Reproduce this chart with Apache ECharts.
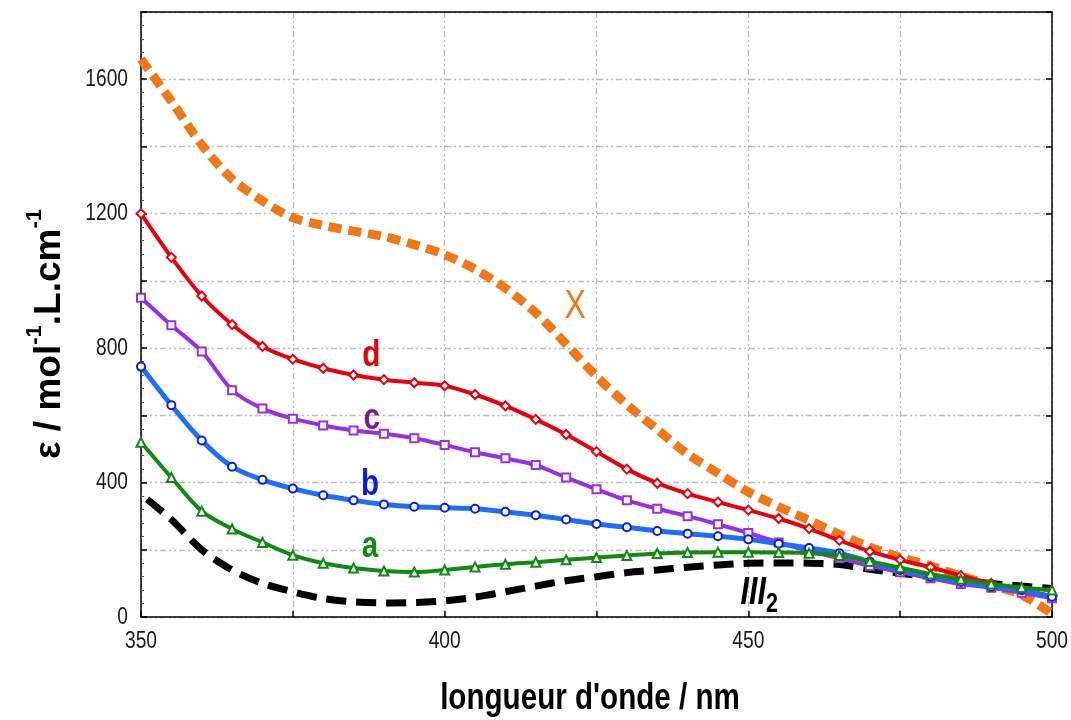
<!DOCTYPE html>
<html>
<head>
<meta charset="utf-8">
<script src="https://cdn.jsdelivr.net/npm/echarts@6/dist/echarts.min.js"></script>
<style>
  html, body { margin: 0; padding: 0; background: #ffffff; }
  #chart { width: 1071px; height: 720px; }
</style>
</head>
<body>
<div id="chart"></div>
<script>
// ---- data ----
const wavelengths = [350,355,360,365,370,375,380,385,390,395,400,405,410,415,420,425,430,435,440,445,450,455,460,465,470,475,480,485,490,495,500];
const seriesX = [1660,1535,1405,1303,1238,1188,1165,1148,1132,1108,1078,1035,978,905,812,716,632,558,485,428,372,328,288,246,208,178,152,122,95,66,10];
const seriesD = [1200,1070,955,870,805,767,740,720,706,697,688,662,628,588,543,492,440,398,367,342,318,293,263,228,195,170,148,123,100,82,62];
const seriesC = [950,868,790,675,620,590,570,555,545,532,512,490,472,452,415,380,347,322,300,276,250,222,196,175,152,133,115,98,87,72,56];
const seriesB = [745,630,525,447,408,382,362,347,335,328,325,322,313,303,290,277,267,256,248,240,231,218,205,190,165,140,120,104,90,80,60];
const seriesA = [520,415,315,262,222,184,160,146,137,134,140,149,157,163,170,177,183,189,192,193,193,192,190,183,165,147,128,112,98,88,80];
const wavelengthsIII2 = [351,355,360,365,370,375,380,385,390,395,400,405,410,415,420,425,430,435,440,445,450,455,460,465,470,475,480,485,490,495,500];
const seriesIII2 = [350,290,200,140,100,75,55,45,42,43,48,59,75,92,108,120,132,140,148,155,160,161,160,156,142,130,120,110,100,92,85];

const xTickLabels = [350, 400, 450, 500];
const yTickLabels = [0, 400, 800, 1200, 1600];

const seriesNames = ['X', 'd', 'c', 'b', 'a', 'III2'];
// label anchor points in data units [wavelength, epsilon]
const labelAnchors = {
  X: [421.5, 922], d: [387.9, 776], c: [388.0, 589], b: [387.7, 393], a: [387.7, 208], III2: [451.8, 62]
};

function pairs(xs, ys) { return xs.map((x, i) => [x, ys[i]]); }

const FONT = '"Liberation Sans", Arial, sans-serif';
const NARROW = 0.80;

const chart = echarts.init(document.getElementById('chart'), null, { renderer: 'canvas' });

const gridLine = { show: true, lineStyle: { color: '#BDBDBD', width: 1.3, type: [6, 3, 2, 3, 2, 3] } };

const option = {
  backgroundColor: '#ffffff',
  animation: false,
  grid: { left: 141, right: 19, top: 12, bottom: 103, show: false },
  xAxis: [
    {
      type: 'value', min: 350, max: 500, interval: 25, position: 'bottom',
      axisLine: { show: true, onZero: false, lineStyle: { color: '#000', width: 1.5 } },
      axisTick: { show: true, inside: true, length: 6, lineStyle: { color: '#000', width: 1.5 } },
      axisLabel: { show: false },
      splitLine: gridLine
    },
    {
      type: 'value', min: 350, max: 500, interval: 25, position: 'top',
      axisLine: { show: true, onZero: false, lineStyle: { color: '#000', width: 1.5 } },
      axisTick: { show: false }, axisLabel: { show: false }, splitLine: { show: false }
    }
  ],
  yAxis: [
    {
      type: 'value', min: 0, max: 1800, interval: 200, position: 'left',
      axisLine: { show: true, onZero: false, lineStyle: { color: '#000', width: 1.5 } },
      axisTick: { show: true, inside: true, length: 6, lineStyle: { color: '#000', width: 1.5 } },
      minorTick: { show: true, splitNumber: 5, length: 3, lineStyle: { color: '#555', width: 1 } },
      axisLabel: { show: false },
      splitLine: gridLine
    },
    {
      type: 'value', min: 0, max: 1800, interval: 200, position: 'right',
      axisLine: { show: true, onZero: false, lineStyle: { color: '#000', width: 1.5 } },
      axisTick: { show: true, inside: true, length: 6, lineStyle: { color: '#000', width: 1.5 } },
      axisLabel: { show: false }, splitLine: { show: false }
    }
  ],
  series: [
    {
      name: 'III2', type: 'line', smooth: 0.3, symbol: 'none', z: 2,
      data: pairs(wavelengthsIII2, seriesIII2),
      lineStyle: { color: '#000000', width: 7, type: [20, 10], cap: 'butt' }
    },
    {
      name: 'X', type: 'line', smooth: 0.3, symbol: 'none', z: 3,
      data: pairs(wavelengths, seriesX),
      lineStyle: { color: '#F07818', width: 9, type: [13, 7], cap: 'butt' }
    },
    {
      name: 'd', type: 'line', smooth: 0.3, z: 4,
      data: pairs(wavelengths, seriesD),
      symbol: 'emptyDiamond', symbolSize: 9, showAllSymbol: true,
      itemStyle: { color: '#E8000A', borderWidth: 1.5 },
      lineStyle: { color: '#E8000A', width: 4 }
    },
    {
      name: 'c', type: 'line', smooth: 0.3, z: 5,
      data: pairs(wavelengths, seriesC),
      symbol: 'emptyRect', symbolSize: 8, showAllSymbol: true,
      itemStyle: { color: '#9A2FE0', borderWidth: 1.5 },
      lineStyle: { color: '#9A2FE0', width: 4 }
    },
    {
      name: 'b', type: 'line', smooth: 0.3, z: 6,
      data: pairs(wavelengths, seriesB),
      symbol: 'emptyCircle', symbolSize: 8, showAllSymbol: true,
      itemStyle: { color: '#0A1EE0', borderWidth: 1.5 },
      lineStyle: { color: '#1E6FF5', width: 5 }
    },
    {
      name: 'a', type: 'line', smooth: 0.3, z: 7,
      data: pairs(wavelengths, seriesA),
      symbol: 'emptyTriangle', symbolSize: 9, showAllSymbol: true,
      itemStyle: { color: '#128A12', borderWidth: 1.5 },
      lineStyle: { color: '#128A12', width: 4 }
    }
  ]
};

chart.setOption(option);

// ---- text drawn through the chart's own scales ----
const graphics = [];
const bottomY = chart.convertToPixel({ gridIndex: 0 }, [350, 0])[1];
const leftX = chart.convertToPixel({ gridIndex: 0 }, [350, 0])[0];

xTickLabels.forEach(v => {
  const p = chart.convertToPixel({ gridIndex: 0 }, [v, 0]);
  graphics.push({
    type: 'text', x: p[0], y: bottomY + 24, scaleX: NARROW, z: 100,
    style: { text: String(v), font: '24px ' + FONT, fill: '#1a1a1a', align: 'center', verticalAlign: 'middle' }
  });
});
yTickLabels.forEach(v => {
  const p = chart.convertToPixel({ gridIndex: 0 }, [350, v]);
  graphics.push({
    type: 'text', x: leftX - 13, y: p[1], scaleX: NARROW, z: 100,
    style: { text: String(v), font: '24px ' + FONT, fill: '#1a1a1a', align: 'right', verticalAlign: 'middle' }
  });
});

// axis titles
graphics.push({
  type: 'text', x: 590, y: 699, scaleX: NARROW, z: 100,
  style: { text: "longueur d'onde / nm", font: 'bold 37px ' + FONT, fill: '#000', align: 'center', verticalAlign: 'middle' }
});
graphics.push({
  type: 'text', x: 46, y: 334, rotation: Math.PI / 2, scaleX: 1.0, z: 100,
  style: {
    text: '{a|ε / mol}{s|-1}{a|.L.cm}{s|-1}',
    align: 'center', verticalAlign: 'middle',
    rich: {
      a: { font: 'bold 37px ' + FONT, fill: '#000', lineHeight: 44, verticalAlign: 'bottom' },
      s: { font: 'bold 22px ' + FONT, fill: '#000', lineHeight: 24, verticalAlign: 'top' }
    }
  }
});

// curve labels
const labelStyles = {
  X: { font: '40px ' + FONT, fill: '#F07818' },
  d: { font: 'bold 37px ' + FONT, fill: '#E8000A' },
  c: { font: 'bold 37px ' + FONT, fill: '#7A1E8C' },
  b: { font: 'bold 37px ' + FONT, fill: '#0A1EE0' },
  a: { font: 'bold 37px ' + FONT, fill: '#128A12' }
};
seriesNames.forEach(n => {
  const p = chart.convertToPixel({ gridIndex: 0 }, labelAnchors[n]);
  if (n === 'III2') {
    graphics.push({
      type: 'text', x: p[0], y: p[1], scaleX: NARROW, z: 100,
      style: {
        text: '{m|III}{s|2}', align: 'center', verticalAlign: 'middle',
        rich: {
          m: { font: 'italic bold 38px ' + FONT, fill: '#000', lineHeight: 44, verticalAlign: 'top' },
          s: { font: 'bold 27px ' + FONT, fill: '#000', lineHeight: 28, verticalAlign: 'bottom' }
        }
      }
    });
  } else {
    graphics.push({
      type: 'text', x: p[0], y: p[1], scaleX: NARROW, z: 100,
      style: Object.assign({ text: n, align: 'center', verticalAlign: 'middle' }, labelStyles[n])
    });
  }
});

chart.setOption({ graphic: graphics });
</script>
</body>
</html>
